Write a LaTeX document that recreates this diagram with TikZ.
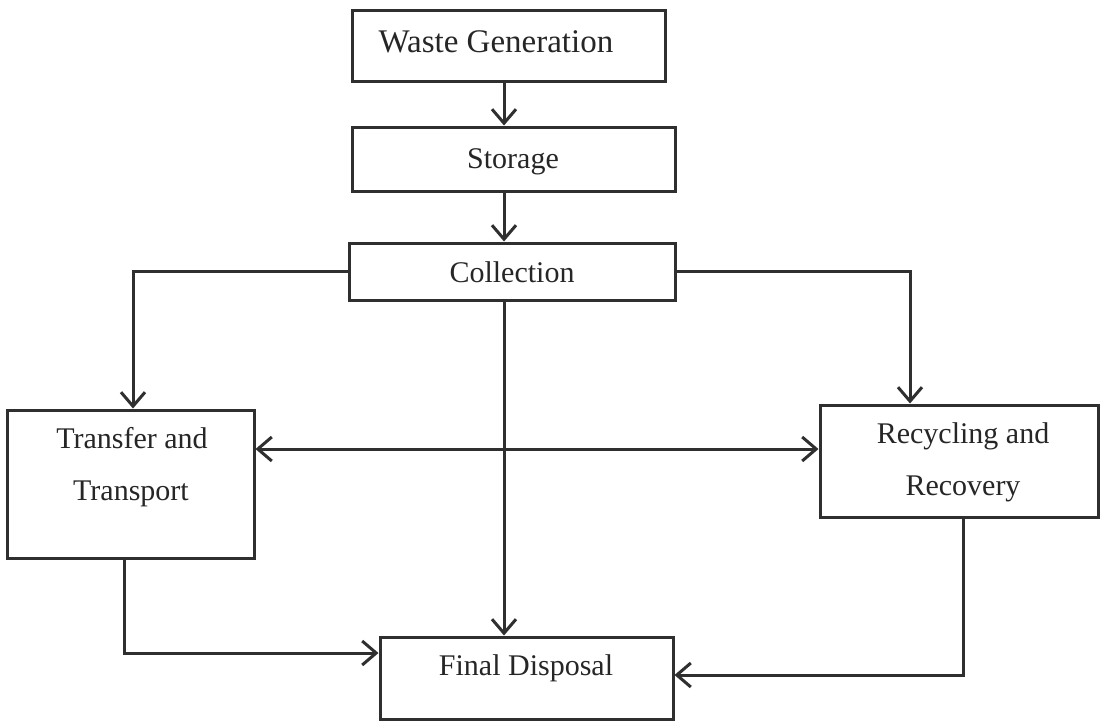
\documentclass[tikz,border=0pt]{standalone}
\usepackage{fontspec}
\setmainfont{Liberation Serif}
\usetikzlibrary{arrows.meta}
\definecolor{ink}{HTML}{2F2F2F}
\definecolor{txt}{HTML}{262626}
\tikzset{
  box/.style={draw=ink, line width=3pt, rectangle, inner sep=0pt},
  lbl/.style={anchor=base, inner sep=0pt, text=txt, font=\fontsize{30}{36}\selectfont},
  conn/.style={draw=ink, line width=3pt},
  arr/.style={conn, -{Straight Barb[length=14pt,width=24pt]}},
  darr/.style={conn, {Straight Barb[length=14pt,width=24pt]}-{Straight Barb[length=14pt,width=24pt]}}
}
\begin{document}
\begin{tikzpicture}[x=1pt,y=-1pt]
\useasboundingbox[fill=white] (0,0) rectangle (1103,721);
% boxes
\node[box, minimum width=313pt, minimum height=71pt] (wg) at (508.5,45.5) {};
\node[box, minimum width=323pt, minimum height=64pt] (st) at (513.5,159) {};
\node[box, minimum width=326pt, minimum height=57pt] (co) at (512,271.5) {};
\node[box, minimum width=247pt, minimum height=148pt] (tr) at (130.5,484) {};
\node[box, minimum width=278pt, minimum height=112pt] (rc) at (959,461) {};
\node[box, minimum width=293pt, minimum height=82pt] (fd) at (526.5,678) {};
% labels
\node[lbl, font=\fontsize{33}{40}\selectfont] (twg) at (496,52) {Waste Generation};
\node[lbl] (tst) at (513,168) {Storage};
\node[lbl] (tco) at (512,282) {Collection};
\node[lbl] (ttr1) at (132,448) {Transfer and};
\node[lbl] (ttr2) at (131,500) {Transport};
\node[lbl] (trc1) at (963,443) {Recycling and};
\node[lbl] (trc2) at (963,495) {Recovery};
\node[lbl] (tfd) at (526,675) {Final Disposal};
% helper coordinates
\coordinate (xm) at (504,0);
\coordinate (xl) at (133,0);
\coordinate (xr) at (910,0);
\coordinate (xb) at (124,0);
\coordinate (xc) at (963,0);
\coordinate (ymid) at (0,449);
\coordinate (ylo) at (0,653);
\coordinate (yro) at (0,675);
% connectors
\draw[arr] (wg.south -| xm) -- (st.north -| xm);
\draw[arr] (st.south -| xm) -- (co.north -| xm);
\draw[arr] (co.west) -| (tr.north -| xl);
\draw[arr] (co.east) -| (rc.north -| xr);
\draw[arr] (co.south -| xm) -- (fd.north -| xm);
\draw[darr] (tr.east |- ymid) -- (rc.west |- ymid);
\draw[arr] (tr.south -| xb) |- (fd.west |- ylo);
\draw[arr] (rc.south -| xc) |- (fd.east |- yro);
\end{tikzpicture}
\end{document}
